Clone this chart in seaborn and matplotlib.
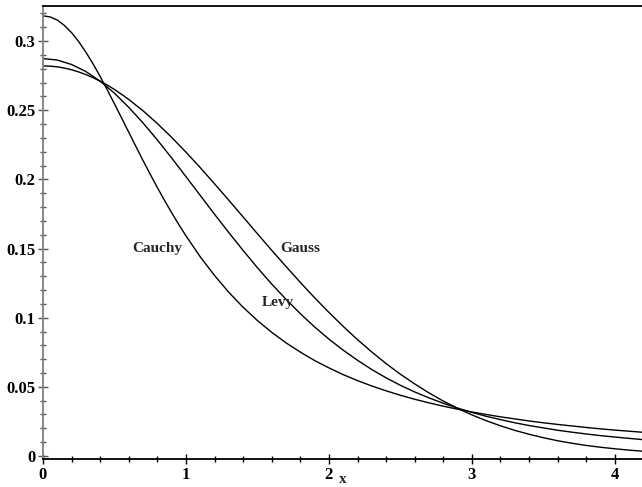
import numpy as np
import pandas as pd
import matplotlib
matplotlib.use("Agg")
import matplotlib.pyplot as plt
from matplotlib.ticker import MultipleLocator, FuncFormatter
import seaborn as sns

x_vals = [round(0.1 * i, 1) for i in range(43)]
levy = [0.2874, 0.2863, 0.2831, 0.2780, 0.2710, 0.2623,
        0.2521, 0.2408, 0.2285, 0.2155, 0.2020, 0.1884,
        0.1748, 0.1615, 0.1486, 0.1361, 0.1243, 0.1133,
        0.1029, 0.0933, 0.0845, 0.0765, 0.0692, 0.0625,
        0.0565, 0.0511, 0.0463, 0.0420, 0.0381, 0.0346,
        0.0315, 0.0287, 0.0263, 0.0240, 0.0220, 0.0203,
        0.0186, 0.0172, 0.0159, 0.0147, 0.0137, 0.0127,
        0.0118]
cauchy = [0.3183, 0.3152, 0.3061, 0.2920, 0.2744, 0.2546,
          0.2341, 0.2136, 0.1941, 0.1759, 0.1592, 0.1440,
          0.1305, 0.1183, 0.1075, 0.0979, 0.0894, 0.0818,
          0.0751, 0.0690, 0.0637, 0.0588, 0.0545, 0.0506,
          0.0471, 0.0439, 0.0410, 0.0384, 0.0360, 0.0338,
          0.0318, 0.0300, 0.0283, 0.0268, 0.0253, 0.0240,
          0.0228, 0.0217, 0.0206, 0.0196, 0.0187, 0.0179,
          0.0171]
gauss = [0.2821, 0.2814, 0.2793, 0.2758, 0.2710, 0.2650,
         0.2578, 0.2496, 0.2404, 0.2304, 0.2197, 0.2085,
         0.1968, 0.1849, 0.1728, 0.1607, 0.1487, 0.1370,
         0.1255, 0.1144, 0.1038, 0.0937, 0.0841, 0.0752,
         0.0668, 0.0591, 0.0521, 0.0456, 0.0397, 0.0345,
         0.0297, 0.0255, 0.0218, 0.0185, 0.0157, 0.0132,
         0.0110, 0.0092, 0.0076, 0.0063, 0.0052, 0.0042,
         0.0034]
# extra readings between grid points near the peak
cauchy_mid_x = [0.05, 0.15, 0.25, 0.35, 0.45, 0.55, 0.65, 0.75, 0.85, 0.95]
cauchy_mid = [0.3175, 0.3113, 0.2996, 0.2836, 0.2647, 0.2444, 0.2238, 0.2037, 0.1848, 0.1673]
gauss_mid_x = [0.05, 0.15, 0.25, 0.35, 0.45, 0.55]
gauss_mid = [0.2819, 0.2805, 0.2777, 0.2736, 0.2682, 0.2615]

series_names = ["Cauchy", "Gauss", "Levy"]
label_pos = {"Cauchy": (0.80, 0.150), "Gauss": (1.80, 0.150), "Levy": (1.64, 0.111)}
x_ticks = [0, 1, 2, 3, 4]
y_ticks = [0, 0.05, 0.1, 0.15, 0.2, 0.25, 0.3]

df = pd.concat([
    pd.DataFrame({"x": x_vals + cauchy_mid_x, "y": cauchy + cauchy_mid, "dist": "Cauchy"}),
    pd.DataFrame({"x": x_vals + gauss_mid_x, "y": gauss + gauss_mid, "dist": "Gauss"}),
    pd.DataFrame({"x": x_vals, "y": levy, "dist": "Levy"}),
])

sns.set_style("ticks")
plt.rcParams["font.family"] = ["Liberation Serif", "DejaVu Serif"]
plt.rcParams["font.weight"] = "bold"

fig = plt.figure(figsize=(6.42, 4.87), dpi=100)
ax = fig.add_axes([43 / 642, 1 - 459 / 487, 1 - 43 / 642, (459 - 6) / 487])

sns.lineplot(data=df, x="x", y="y", hue="dist", hue_order=series_names,
             palette={n: "black" for n in series_names}, linewidth=1.0,
             legend=False, ax=ax, sort=True)

for name in series_names:
    px, py = label_pos[name]
    ax.text(px, py, name, ha="center", va="center", fontsize=11, fontweight="bold")

ax.set_xlim(0, 4.19)
ax.set_ylim(-0.0022, 0.3254)
ax.set_xticks(x_ticks)
ax.set_yticks(y_ticks)
ax.xaxis.set_minor_locator(MultipleLocator(0.2))
ax.yaxis.set_minor_locator(MultipleLocator(0.01))
ax.xaxis.set_major_formatter(FuncFormatter(lambda v, p: f"{v:g}"))
ax.yaxis.set_major_formatter(FuncFormatter(lambda v, p: f"{v:g}"))
for lab in ax.get_xticklabels() + ax.get_yticklabels():
    lab.set_fontweight("bold")
ax.tick_params(axis="both", which="major", direction="inout", length=7, width=1.0,
               labelsize=12, pad=2, colors="black")
ax.tick_params(axis="both", which="minor", direction="inout", length=5, width=1.0, colors="black")
ax.tick_params(axis="y", which="both", colors="#555555", labelcolor="black")

ax.spines["right"].set_visible(False)
ax.spines["top"].set_color("black")
ax.spines["top"].set_linewidth(1.3)
ax.spines["bottom"].set_color("black")
ax.spines["bottom"].set_linewidth(1.3)
ax.spines["left"].set_color("#808080")
ax.spines["left"].set_linewidth(1.3)

ax.set_xlabel("x", fontsize=11, fontweight="bold", labelpad=-7)
ax.set_ylabel("")

fig.savefig("out.png", dpi=100)
